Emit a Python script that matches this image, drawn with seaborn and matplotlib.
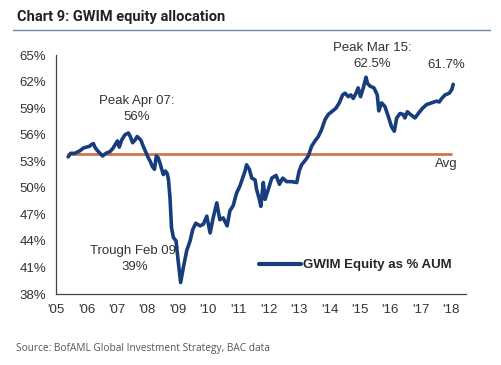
import matplotlib
matplotlib.use("Agg")
import matplotlib.pyplot as plt
import seaborn as sns
import pandas as pd
from matplotlib.lines import Line2D

# GWIM equity allocation (% of AUM)
years = [2005.40, 2005.48, 2005.62, 2005.79, 2005.90, 2006.00, 2006.10, 2006.17, 2006.23, 2006.28,
         2006.34, 2006.45, 2006.53, 2006.64, 2006.78, 2006.88, 2006.97, 2007.02, 2007.08, 2007.16,
         2007.27, 2007.38, 2007.43, 2007.52, 2007.60, 2007.67, 2007.79, 2007.87, 2007.96, 2008.02,
         2008.10, 2008.17, 2008.24, 2008.30, 2008.36, 2008.42, 2008.53, 2008.60, 2008.66, 2008.70,
         2008.75, 2008.80, 2008.86, 2008.95, 2009.02, 2009.10, 2009.19, 2009.30, 2009.41, 2009.50,
         2009.60, 2009.74, 2009.85, 2009.96, 2010.07, 2010.17, 2010.29, 2010.39, 2010.50, 2010.63,
         2010.72, 2010.83, 2010.94, 2011.05, 2011.12, 2011.22, 2011.27, 2011.36, 2011.44, 2011.55,
         2011.60, 2011.69, 2011.74, 2011.82, 2011.88, 2011.98, 2012.10, 2012.24, 2012.35, 2012.46,
         2012.59, 2012.75, 2012.92, 2013.00, 2013.08, 2013.22, 2013.30, 2013.41, 2013.52, 2013.63,
         2013.74, 2013.85, 2013.96, 2014.07, 2014.21, 2014.32, 2014.43, 2014.51, 2014.62, 2014.70,
         2014.78, 2014.87, 2014.94, 2015.02, 2015.11, 2015.20, 2015.25, 2015.33, 2015.46, 2015.57,
         2015.62, 2015.71, 2015.82, 2015.93, 2016.04, 2016.13, 2016.21, 2016.32, 2016.42, 2016.48,
         2016.56, 2016.66, 2016.81, 2016.92, 2017.06, 2017.19, 2017.36, 2017.52, 2017.61, 2017.69,
         2017.80, 2017.94, 2018.02, 2018.07]
equity_pct = [53.5, 53.9, 53.9, 54.2, 54.5, 54.6, 54.7, 54.9, 55.0, 54.6,
              54.3, 53.9, 53.6, 53.9, 54.1, 54.5, 55.0, 55.3, 54.6, 55.4,
              56.0, 56.2, 55.9, 55.1, 55.4, 55.8, 55.4, 54.7, 54.0, 53.5,
              53.0, 52.4, 52.1, 53.6, 53.4, 52.8, 51.5, 51.9, 51.6, 50.9,
              48.9, 45.5, 44.4, 44.0, 41.7, 39.3, 41.0, 42.9, 44.0, 45.3,
              46.0, 45.7, 45.9, 46.8, 44.9, 46.6, 48.3, 46.4, 46.6, 45.7,
              47.4, 48.0, 49.4, 50.2, 50.9, 51.9, 52.6, 52.1, 51.1, 50.9,
              49.8, 48.7, 47.9, 50.6, 48.7, 49.8, 51.1, 51.4, 50.4, 51.1,
              50.7, 50.7, 50.6, 51.9, 52.6, 53.2, 53.6, 54.7, 55.3, 55.8,
              56.6, 57.7, 58.3, 58.6, 59.0, 59.6, 60.5, 60.7, 60.3, 60.5,
              60.1, 60.7, 61.3, 60.3, 61.3, 62.5, 61.8, 61.5, 61.3, 60.5,
              58.7, 59.6, 59.2, 58.1, 56.9, 56.4, 57.9, 58.4, 58.3, 57.9,
              58.6, 58.3, 57.9, 58.4, 59.0, 59.4, 59.6, 59.8, 59.7, 60.1,
              60.5, 60.7, 61.1, 61.7]
avg_years = [2005.40, 2018.00]
avg_pct = [53.8, 53.8]

tick_years = list(range(2005, 2019))
tick_labels = ["'%02d" % (y % 100) for y in tick_years]
y_ticks = [38, 41, 44, 47, 50, 53, 56, 59, 62, 65]

df = pd.DataFrame({"year": years, "pct": equity_pct})
avg_df = pd.DataFrame({"year": avg_years, "pct": avg_pct})

sns.set_style("white")
plt.rcParams['font.family'] = ['Liberation Sans', 'DejaVu Sans']

navy = "#173d7d"
orange = "#c9784f"
txt = "#333333"

fig = plt.figure(figsize=(5.02, 3.65), dpi=100)
ax = fig.add_axes([0.1116, 0.1945, 0.8167, 0.6545])

sns.lineplot(data=avg_df, x="year", y="pct", color=orange, linewidth=2.0, ax=ax)
sns.lineplot(data=df, x="year", y="pct", color=navy, linewidth=2.6, ax=ax)

ax.set_xlim(2005, 2018.49)
ax.set_ylim(38, 65)
ax.set_xticks(tick_years)
ax.set_xticklabels(tick_labels)
ax.set_yticks(y_ticks)
ax.set_yticklabels(["%d%%" % v for v in y_ticks])
ax.set_xlabel("")
ax.set_ylabel("")
for side in ["top", "right"]:
    ax.spines[side].set_visible(False)
for side in ["left", "bottom"]:
    ax.spines[side].set_color("#444444")
    ax.spines[side].set_linewidth(0.9)
ax.tick_params(axis="both", direction="out", length=4, width=0.9, color="#444444",
               labelsize=9.5, labelcolor=txt, pad=3)

# annotations
ax.text(2007.65, 58.9, "Peak Apr 07:\n56%", ha="center", va="center", fontsize=9.5,
        color=txt, linespacing=1.45)
ax.text(2015.40, 64.9, "Peak Mar 15:\n62.5%", ha="center", va="center", fontsize=9.5,
        color=txt, linespacing=1.45, clip_on=False)
ax.text(2017.85, 63.9, "61.7%", ha="center", va="center", fontsize=9.5, color=txt, clip_on=False)
ax.text(2017.85, 52.7, "Avg", ha="center", va="center", fontsize=9.5, color=txt)
ax.text(2007.60, 42.0, "Trough Feb 09:\n39%", ha="center", va="center", fontsize=9.5,
        color=txt, linespacing=1.45)

handle = Line2D([], [], color=navy, linewidth=3)
ax.legend([handle], ["GWIM Equity as % AUM"], loc="center right", bbox_to_anchor=(0.966, 0.121),
          frameon=False, handlelength=3.2, handletextpad=0.2, borderpad=0, borderaxespad=0,
          prop={"weight": "bold", "size": 9.5})

fig.text(0.034, 0.953, "Chart 9: GWIM equity allocation", fontsize=10.5, fontweight="bold",
         color="#222222", va="center", family=["Roboto", "DejaVu Sans"])
fig.add_artist(Line2D([0.026, 0.976], [0.918, 0.918], color="#6f86a6", linewidth=1.0))
fig.text(0.032, 0.046, "Source: BofAML Global Investment Strategy, BAC data", fontsize=7.3,
         color="#555555", va="center", family=["Open Sans", "DejaVu Sans"])

fig.savefig("out.png", dpi=100)
